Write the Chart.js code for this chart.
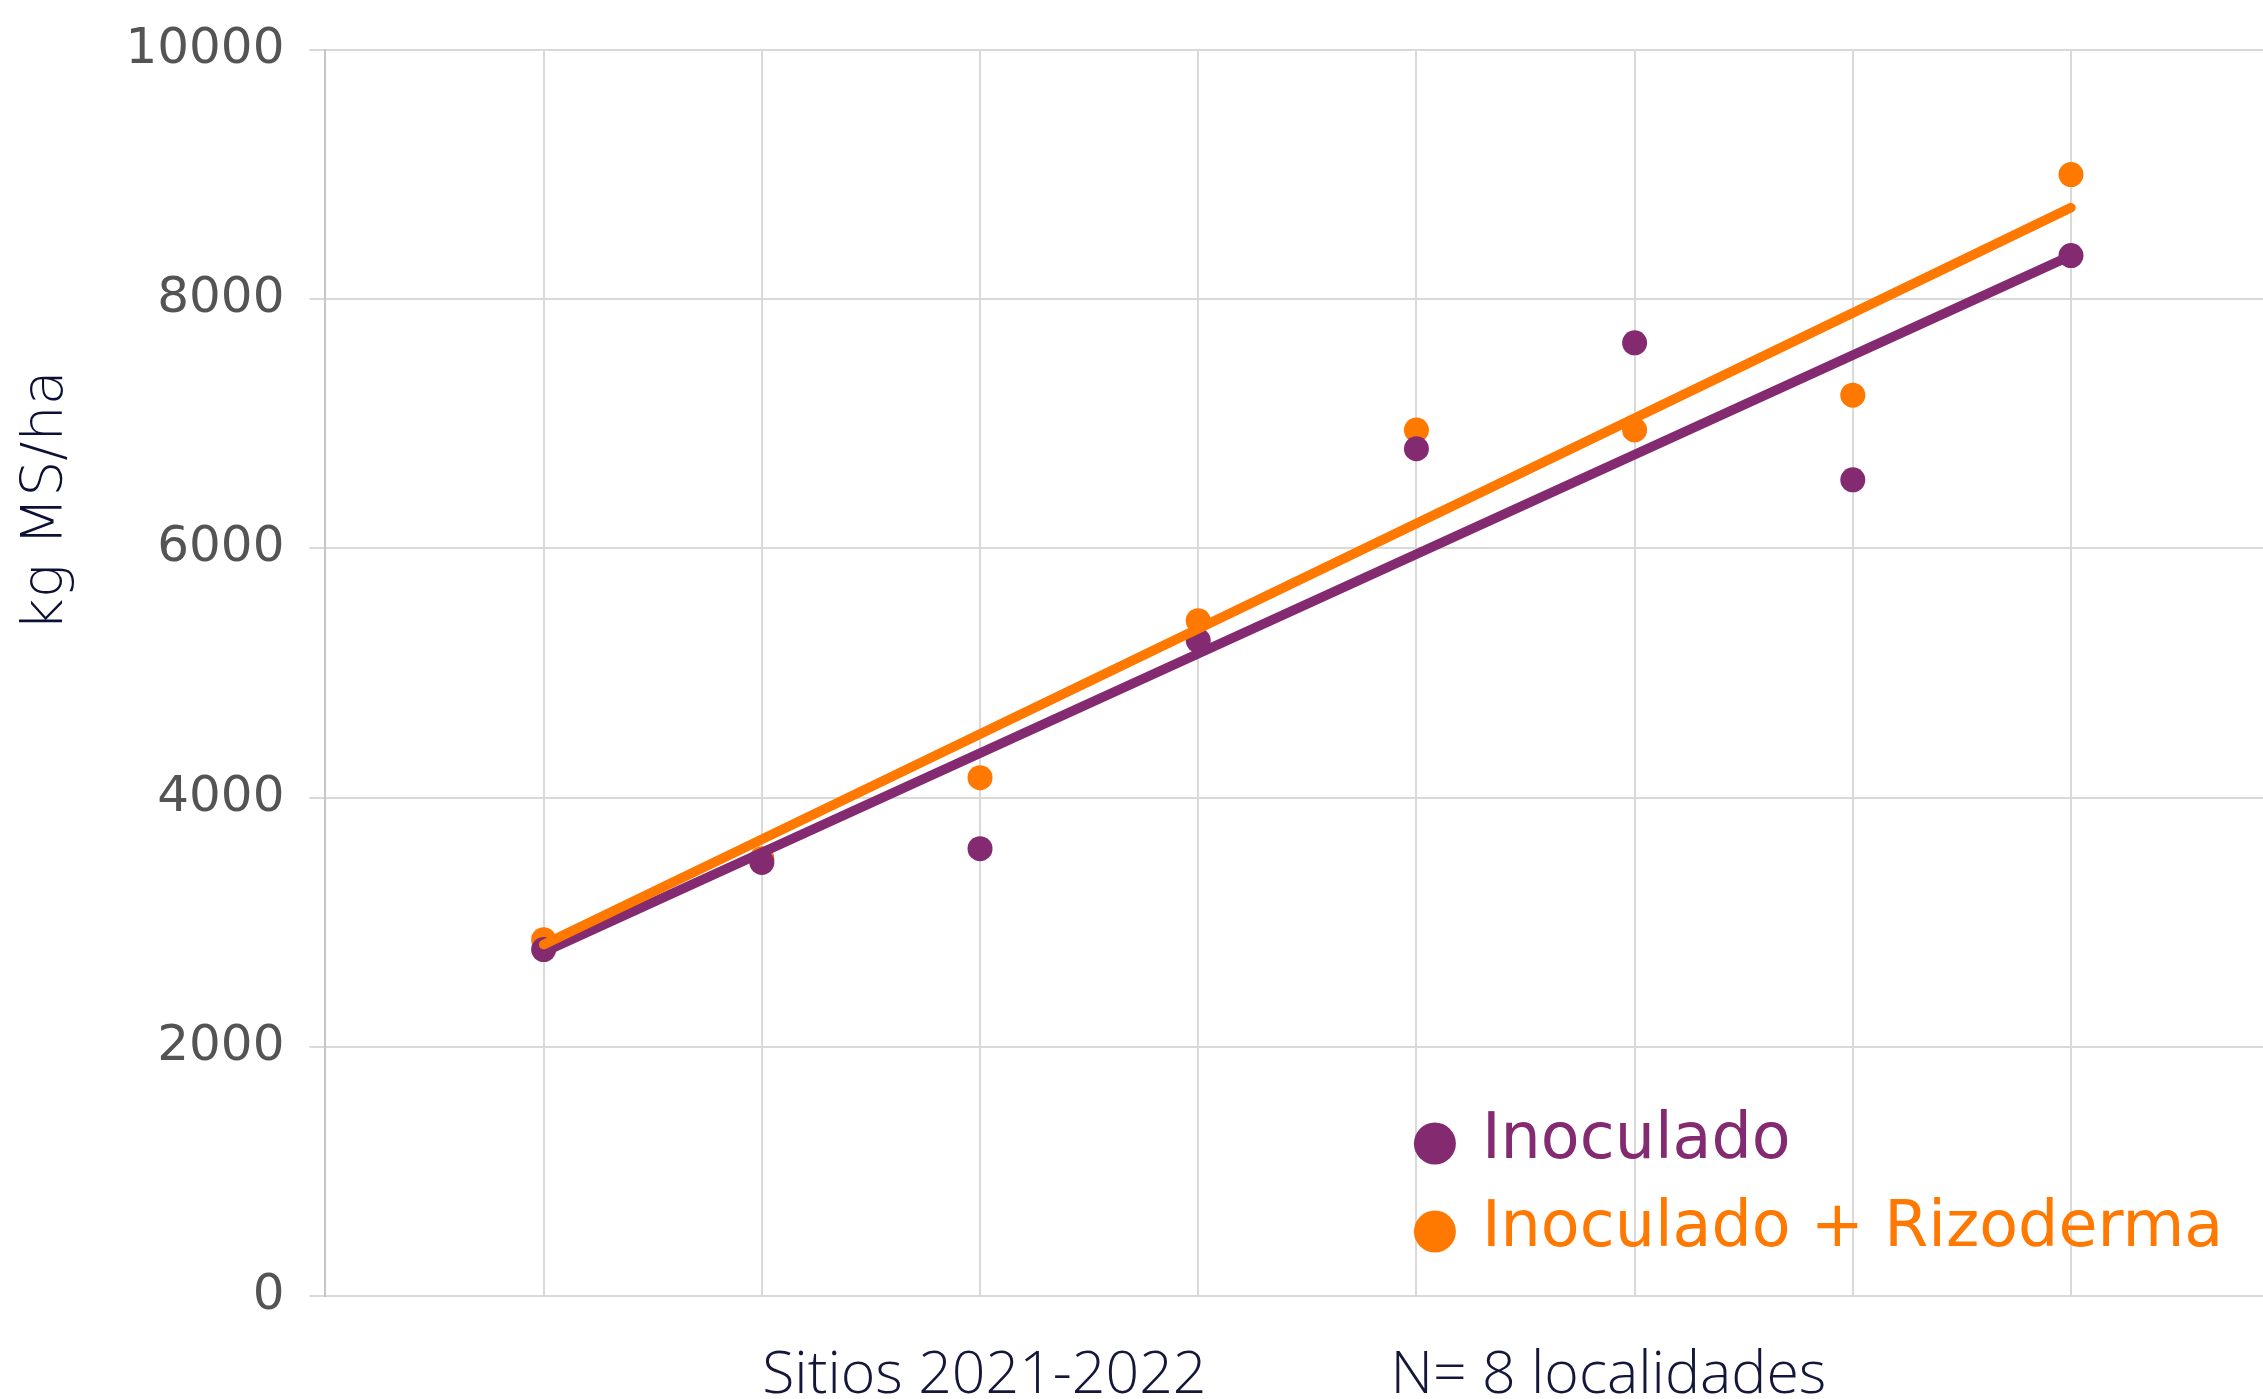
<!DOCTYPE html>
<html>
<head>
<meta charset="utf-8">
<script src="https://cdn.jsdelivr.net/npm/chart.js@4.4.1/dist/chart.umd.min.js"></script>
<style>
  html, body { margin: 0; padding: 0; background: #ffffff; }
  #wrap { width: 2263px; height: 1399px; }
</style>
</head>
<body>
<div id="wrap"><canvas id="c" width="2263" height="1399"></canvas></div>
<script>
// ---- data ----
const sites = [1, 2, 3, 4, 5, 6, 7, 8];
const inoculado = [2780, 3480, 3590, 5260, 6800, 7650, 6550, 8350];
const rizoderma = [2860, 3510, 4160, 5420, 6950, 6950, 7230, 9000];
const trendX = [1, 8];
const trendInoculado = [2760, 8350];
const trendRizoderma = [2820, 8735];
const yTicks = [0, 2000, 4000, 6000, 8000, 10000];
const yTickLabels = ['0', '2000', '4000', '6000', '8000', '10000'];
const seriesNames = ['Inoculado', 'Inoculado + Rizoderma'];
const xTitle = 'Sitios 2021-2022' + ' '.repeat(12) + 'N= 8 localidades';
const yTitle = ' '.repeat(19) + 'kg MS/ha';

const PURPLE = '#832a70';
const ORANGE = '#ff7800';
const GRID = '#d9d9d9';

const toPts = (xs, ys) => xs.map((x, i) => ({ x: x, y: ys[i] }));

const legendPlugin = {
  id: 'customLegend',
  afterDraw(chart) {
    const ctx = chart.ctx;
    const a = chart.chartArea;
    const items = [
      { label: seriesNames[0], color: PURPLE },
      { label: seriesNames[1], color: ORANGE }
    ];
    const x0 = a.left + (a.right - a.left) * 0.5726;
    const y0 = a.top + (a.bottom - a.top) * 0.8776;
    const rowH = 88;
    ctx.save();
    ctx.font = '63.5px "DejaVu Sans"';
    ctx.textBaseline = 'middle';
    ctx.textAlign = 'left';
    items.forEach((it, i) => {
      const cy = y0 + i * rowH;
      ctx.fillStyle = it.color;
      ctx.beginPath();
      ctx.arc(x0, cy, 21, 0, Math.PI * 2);
      ctx.fill();
      ctx.fillText(it.label, x0 + 47, cy - 2);
    });
    ctx.restore();
  }
};

new Chart(document.getElementById('c'), {
  type: 'scatter',
  data: {
    datasets: [
      {
        label: seriesNames[1] + ' (tendencia)',
        data: toPts(trendX, trendRizoderma),
        showLine: true, borderColor: ORANGE, borderWidth: 9.5,
        borderCapStyle: 'round', pointRadius: 0, fill: false
      },
      {
        label: seriesNames[0] + ' (tendencia)',
        data: toPts(trendX, trendInoculado),
        showLine: true, borderColor: PURPLE, borderWidth: 9.5,
        borderCapStyle: 'round', pointRadius: 0, fill: false
      },
      {
        label: seriesNames[0],
        data: toPts(sites, inoculado),
        backgroundColor: PURPLE, borderColor: PURPLE,
        pointRadius: 12.5, pointBorderWidth: 0
      },
      {
        label: seriesNames[1],
        data: toPts(sites, rizoderma),
        backgroundColor: ORANGE, borderColor: ORANGE,
        pointRadius: 12.5, pointBorderWidth: 0
      }
    ]
  },
  options: {
    responsive: false,
    animation: false,
    devicePixelRatio: 1,
    layout: { autoPadding: false, padding: { top: 0, right: 0, bottom: 0, left: 0 } },
    plugins: {
      legend: { display: false },
      tooltip: { enabled: false }
    },
    scales: {
      x: {
        type: 'linear',
        min: 0,
        max: 8.88,
        ticks: { display: false, stepSize: 1, includeBounds: false },
        grid: { color: GRID, lineWidth: 2, drawTicks: false },
        border: { display: true, color: GRID, width: 2 },
        title: {
          display: true,
          text: xTitle,
          color: '#14163a',
          font: { family: '"Open Sans"', size: 59, weight: '300', lineHeight: 1 },
          padding: { top: 51, bottom: -7 }
        }
      },
      y: {
        type: 'linear',
        min: 0,
        max: 10000,
        afterBuildTicks: (axis) => { axis.ticks = yTicks.map(v => ({ value: v })); },
        ticks: {
          color: '#545454',
          padding: 25,
          font: { family: '"DejaVu Sans"', size: 50, lineHeight: 1.0 },
          callback: (v) => yTickLabels[yTicks.indexOf(v)]
        },
        grid: { color: GRID, lineWidth: 2, tickLength: 16, tickColor: GRID },
        border: { display: true, color: '#c6c6c6', width: 2 },
        title: {
          display: true,
          text: yTitle,
          color: '#0d1035',
          font: { family: '"DejaVu Sans"', size: 57, weight: '200' },
          padding: { top: 13, bottom: 19 }
        }
      }
    }
  },
  plugins: [legendPlugin]
});
</script>
</body>
</html>
